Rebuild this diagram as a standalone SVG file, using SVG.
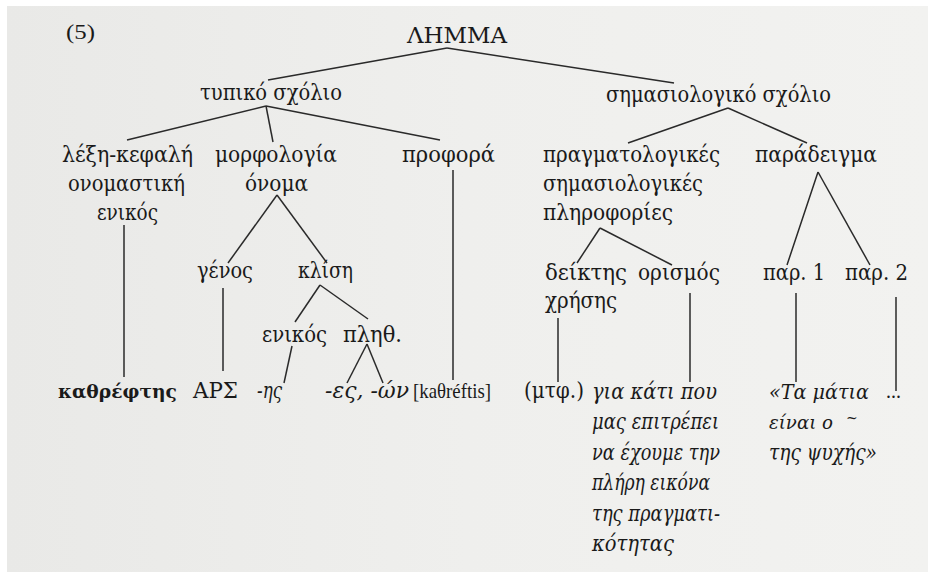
<svg xmlns="http://www.w3.org/2000/svg" width="928" height="572" viewBox="0 0 928 572">
<style>
text{font-family:"DejaVu Serif","Liberation Serif",serif;font-size:22px;fill:#1a1a1a}
.lat{font-family:"Liberation Serif","Times New Roman",serif;font-size:22px}
.b{font-weight:bold}
.i{font-style:italic}
#connectors line{stroke:#2a2a2a;stroke-width:1.5;fill:none}
</style>
<defs>
<linearGradient id="bg" x1="0" y1="0" x2="1" y2="0">
<stop offset="0" stop-color="#e9e9e7"/>
<stop offset="0.5" stop-color="#efefed"/>
<stop offset="1" stop-color="#f2f2f0"/>
</linearGradient>
</defs>
<rect x="0" y="0" width="928" height="572" fill="#ffffff"/>
<rect x="7" y="6" width="921" height="566" fill="url(#bg)"/>

<g id="connectors">
<line x1="447" y1="48" x2="268" y2="80"/>
<line x1="447" y1="48" x2="674" y2="83"/>
<line x1="266" y1="106" x2="127" y2="140"/>
<line x1="266" y1="106" x2="273" y2="142"/>
<line x1="266" y1="106" x2="440" y2="140"/>
<line x1="728" y1="108" x2="628" y2="143"/>
<line x1="728" y1="108" x2="807" y2="143"/>
<line x1="124" y1="225" x2="124" y2="377"/>
<line x1="277" y1="195" x2="228" y2="263"/>
<line x1="277" y1="195" x2="327" y2="263"/>
<line x1="223" y1="288" x2="223" y2="371"/>
<line x1="320" y1="285" x2="295" y2="322"/>
<line x1="320" y1="285" x2="368" y2="319"/>
<line x1="292" y1="346" x2="284" y2="383"/>
<line x1="367" y1="344" x2="347" y2="383"/>
<line x1="367" y1="344" x2="383" y2="383"/>
<line x1="453" y1="170" x2="453" y2="380"/>
<line x1="600" y1="228" x2="577" y2="263"/>
<line x1="600" y1="228" x2="672" y2="265"/>
<line x1="558" y1="318" x2="558" y2="382"/>
<line x1="690" y1="293" x2="690" y2="382"/>
<line x1="818" y1="172" x2="787" y2="265"/>
<line x1="818" y1="172" x2="870" y2="265"/>
<line x1="796" y1="293" x2="796" y2="382"/>
<line x1="896" y1="297" x2="896" y2="391"/>
</g>

<g id="label5"><text class="lat" x="66" y="39" textLength="29" lengthAdjust="spacingAndGlyphs">(5)</text></g>
<g id="lemma"><text x="407" y="43" textLength="100" lengthAdjust="spacingAndGlyphs">ΛΗΜΜΑ</text></g>
<g id="typiko"><text x="200" y="100" textLength="142" lengthAdjust="spacingAndGlyphs">τυπικό σχόλιο</text></g>
<g id="simasio"><text x="606" y="102" textLength="225" lengthAdjust="spacingAndGlyphs">σημασιολογικό σχόλιο</text></g>

<g id="lexi">
<text x="62" y="162" textLength="131" lengthAdjust="spacingAndGlyphs">λέξη-κεφαλή</text>
<text x="68" y="191" textLength="117" lengthAdjust="spacingAndGlyphs">ονομαστική</text>
<text x="97" y="220" textLength="61" lengthAdjust="spacingAndGlyphs">ενικός</text>
</g>
<g id="morfologia">
<text x="215" y="162" textLength="122" lengthAdjust="spacingAndGlyphs">μορφολογία</text>
<text x="245" y="191" textLength="63" lengthAdjust="spacingAndGlyphs">όνομα</text>
</g>
<g id="profora"><text x="402" y="162" textLength="93" lengthAdjust="spacingAndGlyphs">προφορά</text></g>
<g id="pragmato">
<text x="543" y="162" textLength="177" lengthAdjust="spacingAndGlyphs">πραγματολογικές</text>
<text x="543" y="191" textLength="160" lengthAdjust="spacingAndGlyphs">σημασιολογικές</text>
<text x="543" y="220" textLength="130" lengthAdjust="spacingAndGlyphs">πληροφορίες</text>
</g>
<g id="paradeigma"><text x="755" y="162" textLength="122" lengthAdjust="spacingAndGlyphs">παράδειγμα</text></g>

<g id="genos"><text x="197" y="278" textLength="56" lengthAdjust="spacingAndGlyphs">γένος</text></g>
<g id="klisi"><text x="298" y="278" textLength="55" lengthAdjust="spacingAndGlyphs">κλίση</text></g>
<g id="enikos2"><text x="262" y="342" textLength="65" lengthAdjust="spacingAndGlyphs">ενικός</text></g>
<g id="plith"><text x="343" y="342" textLength="59" lengthAdjust="spacingAndGlyphs">πληθ.</text></g>

<g id="deiktis">
<text x="545" y="280" textLength="82" lengthAdjust="spacingAndGlyphs">δείκτης</text>
<text x="545" y="308" textLength="72" lengthAdjust="spacingAndGlyphs">χρήσης</text>
</g>
<g id="orismos"><text x="638" y="280" textLength="82" lengthAdjust="spacingAndGlyphs">ορισμός</text></g>
<g id="par1"><text x="763" y="280" textLength="62" lengthAdjust="spacingAndGlyphs">παρ. 1</text></g>
<g id="par2"><text x="845" y="280" textLength="63" lengthAdjust="spacingAndGlyphs">παρ. 2</text></g>

<g id="kathreftis"><text class="b" x="58" y="398" textLength="119" lengthAdjust="spacingAndGlyphs" style="font-size:19px">καθρέφτης</text></g>
<g id="ars"><text x="193" y="398" textLength="45" lengthAdjust="spacingAndGlyphs">ΑΡΣ</text></g>
<g id="is"><text class="i" x="257" y="398" textLength="25" lengthAdjust="spacingAndGlyphs">-ης</text></g>
<g id="es"><text class="i" x="325" y="398" textLength="84" lengthAdjust="spacingAndGlyphs">-ες, -ών</text></g>
<g id="phon"><text class="lat" x="413" y="398" textLength="78" lengthAdjust="spacingAndGlyphs" style="font-size:21px">[kaθréftis]</text></g>
<g id="mtf"><text x="524" y="398" textLength="60" lengthAdjust="spacingAndGlyphs">(μτφ.)</text></g>
<g id="orismos-text">
<text class="i" x="592" y="399" textLength="125" lengthAdjust="spacingAndGlyphs">για κάτι που</text>
<text class="i" x="592" y="429" textLength="127" lengthAdjust="spacingAndGlyphs">μας επιτρέπει</text>
<text class="i" x="592" y="460" textLength="128" lengthAdjust="spacingAndGlyphs">να έχουμε την</text>
<text class="i" x="592" y="490" textLength="118" lengthAdjust="spacingAndGlyphs">πλήρη εικόνα</text>
<text class="i" x="592" y="521" textLength="128" lengthAdjust="spacingAndGlyphs">της πραγματι-</text>
<text class="i" x="592" y="551" textLength="82" lengthAdjust="spacingAndGlyphs">κότητας</text>
</g>
<g id="quote">
<text class="i" x="769" y="399" textLength="100" lengthAdjust="spacingAndGlyphs" style="font-size:20px">«Τα μάτια</text>
<text class="i" x="769" y="429" textLength="64" lengthAdjust="spacingAndGlyphs" style="font-size:19px">είναι ο</text>
<text x="846" y="423" style="font-size:14px">~</text>
<text class="i" x="769" y="460" textLength="108" lengthAdjust="spacingAndGlyphs">της ψυχής»</text>
</g>
<g id="dots"><text class="lat" x="886" y="398" textLength="15" lengthAdjust="spacingAndGlyphs">...</text></g>
</svg>
